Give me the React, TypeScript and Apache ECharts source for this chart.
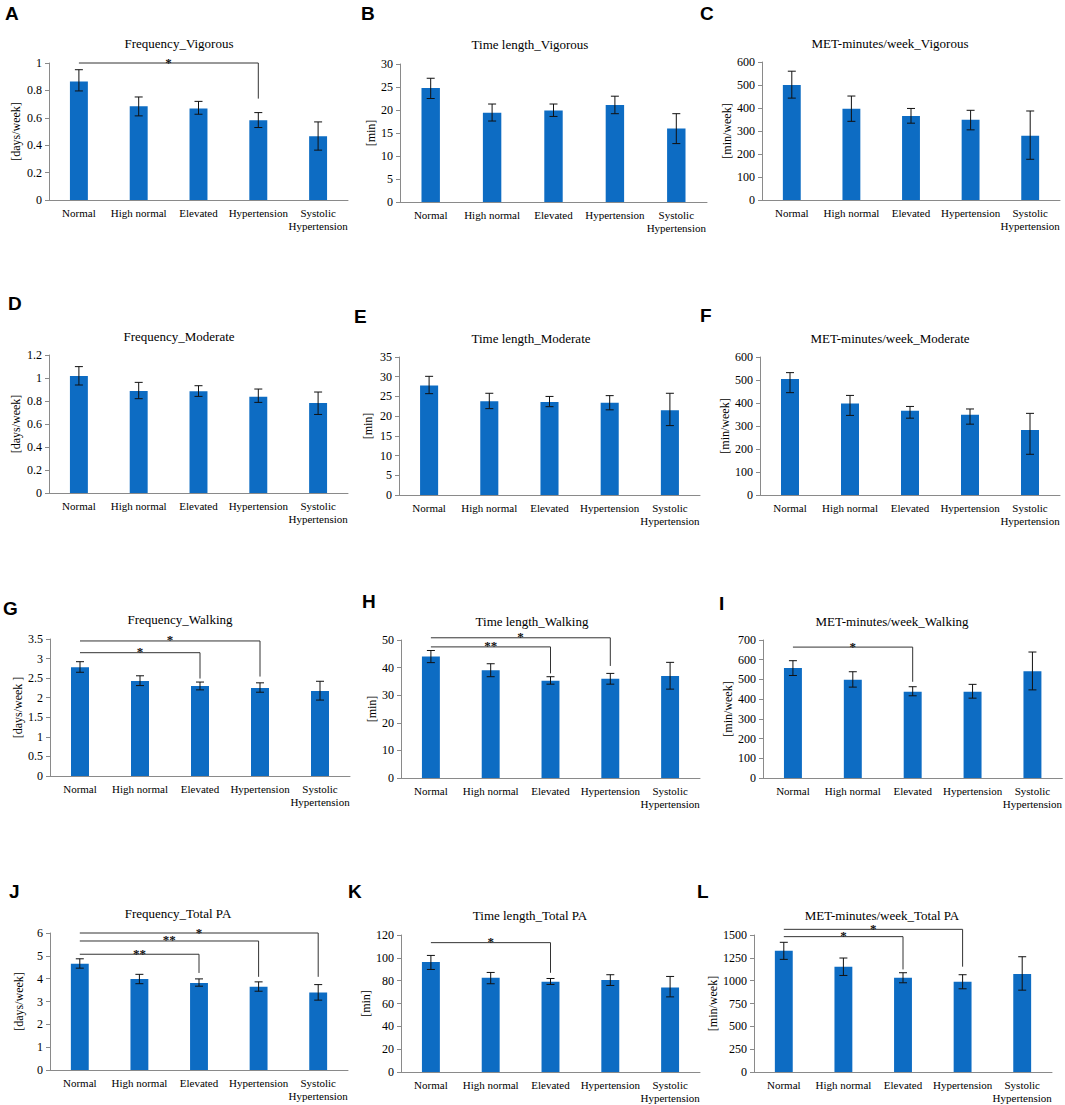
import React, { useEffect, useRef } from 'react';
import * as echarts from 'echarts';

const categories = ['Normal', 'High normal', 'Elevated', 'Hypertension', 'Systolic\nHypertension'];

// A  Frequency_Vigorous
const freqVigMean = [0.865, 0.685, 0.668, 0.582, 0.466];
const freqVigLow = [0.796, 0.614, 0.626, 0.529, 0.364];
const freqVigHigh = [0.951, 0.752, 0.72, 0.638, 0.57];
// B  Time length_Vigorous
const timeVigMean = [24.8, 19.4, 19.9, 21.1, 16.0];
const timeVigLow = [22.5, 17.6, 18.6, 19.2, 12.7];
const timeVigHigh = [26.9, 21.3, 21.3, 23.0, 19.2];
// C  MET-minutes/week_Vigorous
const metVigMean = [500, 397, 365, 349, 279];
const metVigLow = [443, 342, 334, 305, 177];
const metVigHigh = [560, 452, 398, 390, 387];
// D  Frequency_Moderate
const freqModMean = [1.017, 0.887, 0.884, 0.837, 0.782];
const freqModLow = [0.939, 0.82, 0.84, 0.788, 0.683];
const freqModHigh = [1.099, 0.962, 0.933, 0.904, 0.878];
// E  Time length_Moderate
const timeModMean = [27.8, 23.8, 23.6, 23.4, 21.5];
const timeModLow = [25.7, 21.9, 22.4, 21.6, 17.6];
const timeModHigh = [30.1, 25.8, 25.0, 25.2, 25.8];
// F  MET-minutes/week_Moderate
const metModMean = [504, 398, 366, 349, 283];
const metModLow = [445, 346, 334, 308, 177];
const metModHigh = [532, 433, 385, 374, 355];
// G  Frequency_Walking
const freqWalkMean = [2.78, 2.43, 2.3, 2.25, 2.17];
const freqWalkLow = [2.65, 2.31, 2.2, 2.14, 1.94];
const freqWalkHigh = [2.92, 2.56, 2.4, 2.38, 2.42];
// H  Time length_Walking
const timeWalkMean = [44.0, 39.0, 35.2, 36.0, 37.0];
const timeWalkLow = [41.8, 36.7, 34.0, 34.0, 32.2];
const timeWalkHigh = [46.2, 41.4, 36.7, 37.9, 41.9];
// I  MET-minutes/week_Walking
const metWalkMean = [558, 498, 437, 438, 542];
const metWalkLow = [520, 461, 417, 405, 447];
const metWalkHigh = [595, 539, 463, 475, 639];
// J  Frequency_Total PA
const freqTotMean = [4.65, 3.99, 3.81, 3.65, 3.39];
const freqTotLow = [4.46, 3.78, 3.67, 3.45, 3.06];
const freqTotHigh = [4.87, 4.19, 3.99, 3.86, 3.74];
// K  Time length_Total PA
const timeTotMean = [96.3, 82.5, 79.0, 80.5, 74.0];
const timeTotLow = [89.8, 77.3, 76.7, 75.8, 65.8];
const timeTotHigh = [102.1, 87.2, 81.9, 85.2, 83.7];
// L  MET-minutes/week_Total PA
const metTotMean = [1328, 1153, 1032, 988, 1072];
const metTotLow = [1233, 1057, 977, 911, 896];
const metTotHigh = [1420, 1248, 1087, 1065, 1262];

// significance brackets: [fromIndex, toIndex, lineValue, dropValue, label]
const bracketsA: [number, number, number, number, string][] = [[0, 3, 1.0, 0.74, '*']];
const bracketsG: [number, number, number, number, string][] = [[0, 3, 3.45, 2.54, '*'], [0, 2, 3.15, 2.49, '*']];
const bracketsH: [number, number, number, number, string][] = [[0, 3, 50.8, 40.6, '*'], [0, 2, 47.5, 37.9, '**']];
const bracketsI: [number, number, number, number, string][] = [[0, 2, 664, 488, '*']];
const bracketsJ: [number, number, number, number, string][] = [[0, 4, 6.0, 4.08, '*'], [0, 3, 5.65, 4.08, '**'], [0, 2, 5.07, 4.25, '**']];
const bracketsK: [number, number, number, number, string][] = [[0, 2, 113.3, 86.9, '*']];
const bracketsL: [number, number, number, number, string][] = [[0, 3, 1562, 1153, '*'], [0, 2, 1482, 1123, '*']];

const panels = [
  { letter: 'A', title: 'Frequency_Vigorous', yName: '[days/week]', max: 1, interval: 0.2, mean: freqVigMean, low: freqVigLow, high: freqVigHigh, brackets: bracketsA, box: [49, 63, 348, 200], titlePos: [179, 43], letterPos: [5, 13], nameGap: 27 },
  { letter: 'B', title: 'Time length_Vigorous', yName: '[min]', max: 30, interval: 5, mean: timeVigMean, low: timeVigLow, high: timeVigHigh, brackets: [], box: [400, 64, 707, 202], titlePos: [530, 44], letterPos: [361, 13], nameGap: 20 },
  { letter: 'C', title: 'MET-minutes/week_Vigorous', yName: '[min/week]', max: 600, interval: 100, mean: metVigMean, low: metVigLow, high: metVigHigh, brackets: [], box: [762, 62, 1060, 200], titlePos: [890, 43], letterPos: [700, 13], nameGap: 28 },
  { letter: 'D', title: 'Frequency_Moderate', yName: '[days/week]', max: 1.2, interval: 0.2, mean: freqModMean, low: freqModLow, high: freqModHigh, brackets: [], box: [49, 355, 348, 493], titlePos: [179, 336], letterPos: [8, 303], nameGap: 27 },
  { letter: 'E', title: 'Time length_Moderate', yName: '[min]', max: 35, interval: 5, mean: timeModMean, low: timeModLow, high: timeModHigh, brackets: [], box: [399, 357, 700, 495], titlePos: [531, 338], letterPos: [354, 316], nameGap: 25 },
  { letter: 'F', title: 'MET-minutes/week_Moderate', yName: '[min/week]', max: 600, interval: 100, mean: metModMean, low: metModLow, high: metModHigh, brackets: [], box: [760, 357, 1060, 495], titlePos: [890, 338], letterPos: [700, 315], nameGap: 26 },
  { letter: 'G', title: 'Frequency_Walking', yName: '[days/week ]', max: 3.5, interval: 0.5, mean: freqWalkMean, low: freqWalkLow, high: freqWalkHigh, brackets: bracketsG, box: [50, 639, 350, 776], titlePos: [180, 619], letterPos: [3, 608], nameGap: 25 },
  { letter: 'H', title: 'Time length_Walking', yName: '[min]', max: 50, interval: 10, mean: timeWalkMean, low: timeWalkLow, high: timeWalkHigh, brackets: bracketsH, box: [401, 640, 700, 778], titlePos: [532, 621], letterPos: [362, 601], nameGap: 21 },
  { letter: 'I', title: 'MET-minutes/week_Walking', yName: '[min/week]', max: 700, interval: 100, mean: metWalkMean, low: metWalkLow, high: metWalkHigh, brackets: bracketsI, box: [763, 640, 1063, 778], titlePos: [892, 621], letterPos: [719, 603], nameGap: 28 },
  { letter: 'J', title: 'Frequency_Total PA', yName: '[days/week]', max: 6, interval: 1, mean: freqTotMean, low: freqTotLow, high: freqTotHigh, brackets: bracketsJ, box: [50, 933, 348, 1070], titlePos: [178, 913], letterPos: [9, 891], nameGap: 25 },
  { letter: 'K', title: 'Time length_Total PA', yName: '[min]', max: 120, interval: 20, mean: timeTotMean, low: timeTotLow, high: timeTotHigh, brackets: bracketsK, box: [401, 935, 700, 1072], titlePos: [530, 915], letterPos: [348, 891], nameGap: 27 },
  { letter: 'L', title: 'MET-minutes/week_Total PA', yName: '[min/week]', max: 1500, interval: 250, mean: metTotMean, low: metTotLow, high: metTotHigh, brackets: bracketsL, box: [754, 935, 1052, 1072], titlePos: [882, 915], letterPos: [697, 891], nameGap: 34 },
];

const BAR = '#0D6CC3';
const AXIS = '#8a8a8a';
const SERIF = 'Liberation Serif';
const SANS = 'Liberation Sans';

function buildOption() {
  const grid: any[] = [];
  const xAxis: any[] = [];
  const yAxis: any[] = [];
  const series: any[] = [];
  const graphic: any[] = [];

  panels.forEach((p, gi) => {
    const [l, t, r, b] = p.box;
    grid.push({ left: l, top: t, width: r - l, height: b - t, containLabel: false });
    xAxis.push({
      type: 'category', gridIndex: gi, data: categories,
      axisLine: { lineStyle: { color: AXIS, width: 1 } },
      axisTick: { show: false },
      axisLabel: { interval: 0, color: '#000', fontFamily: SERIF, fontSize: 11, lineHeight: 13, margin: 6 },
      splitLine: { show: false },
    });
    yAxis.push({
      type: 'value', gridIndex: gi, min: 0, max: p.max, interval: p.interval,
      name: p.yName, nameLocation: 'middle', nameRotate: 90, nameGap: p.nameGap,
      nameTextStyle: { color: '#000', fontFamily: SERIF, fontSize: 12 },
      axisLine: { show: true, lineStyle: { color: AXIS, width: 1 } },
      axisTick: { show: true, length: 4, lineStyle: { color: AXIS } },
      axisLabel: {
        color: '#000', fontFamily: SERIF, fontSize: 12, margin: 7,
        formatter: (v: number) => String(Math.round(v * 1000) / 1000),
      },
      splitLine: { show: false },
    });
    series.push({
      type: 'bar', xAxisIndex: gi, yAxisIndex: gi, data: p.mean, barWidth: '30%',
      itemStyle: { color: BAR },
    });
    series.push({
      type: 'custom', xAxisIndex: gi, yAxisIndex: gi, clip: false, z: 5,
      data: categories.map((_, i) => [i, p.low[i], p.high[i]]),
      encode: { x: 0, y: [1, 2] },
      renderItem: (params: any, api: any) => {
        const i = api.value(0);
        const lo = api.coord([i, api.value(1)]);
        const hi = api.coord([i, api.value(2)]);
        const w = 4;
        const st = { stroke: '#111', lineWidth: 1 };
        return {
          type: 'group',
          children: [
            { type: 'line', shape: { x1: hi[0], y1: hi[1], x2: lo[0], y2: lo[1] }, style: st },
            { type: 'line', shape: { x1: hi[0] - w, y1: hi[1], x2: hi[0] + w, y2: hi[1] }, style: st },
            { type: 'line', shape: { x1: lo[0] - w, y1: lo[1], x2: lo[0] + w, y2: lo[1] }, style: st },
          ],
        };
      },
    });
    if (p.brackets.length) {
      const br = p.brackets;
      series.push({
        type: 'custom', xAxisIndex: gi, yAxisIndex: gi, clip: false, z: 6,
        data: br.map((d) => [d[0], d[1], d[2], d[3]]),
        encode: { x: [0, 1], y: [2, 3] },
        renderItem: (params: any, api: any) => {
          const d = br[params.dataIndex];
          const a = api.coord([d[0], d[2]]);
          const c = api.coord([d[1], d[2]]);
          const e = api.coord([d[1], d[3]]);
          return {
            type: 'group',
            children: [
              { type: 'polyline', shape: { points: [a, c, e] }, style: { stroke: '#333', lineWidth: 1, fill: 'none' } },
              {
                type: 'text', x: (a[0] + c[0]) / 2, y: a[1] - 1,
                style: { text: d[4], fill: '#111', fontFamily: SERIF, fontSize: 13, fontWeight: 'bold', textAlign: 'center', textVerticalAlign: 'middle' },
              },
            ],
          };
        },
      });
    }
    graphic.push({
      type: 'text', x: p.titlePos[0], y: p.titlePos[1],
      style: { text: p.title, fill: '#000', fontFamily: SERIF, fontSize: 13, textAlign: 'center', textVerticalAlign: 'middle' },
    });
    graphic.push({
      type: 'text', x: p.letterPos[0], y: p.letterPos[1],
      style: { text: p.letter, fill: '#000', fontFamily: SANS, fontSize: 19, fontWeight: 'bold', textAlign: 'left', textVerticalAlign: 'middle' },
    });
  });

  return {
    animation: false,
    backgroundColor: '#ffffff',
    textStyle: { fontFamily: SERIF },
    grid, xAxis, yAxis, series, graphic,
  };
}

export default function App() {
  const ref = useRef<HTMLDivElement>(null);
  useEffect(() => {
    if (!ref.current) return;
    const chart = echarts.init(ref.current, undefined, { renderer: 'svg' });
    chart.setOption(buildOption() as any);
    return () => chart.dispose();
  }, []);
  return (
    <div
      ref={ref}
      style={{ position: 'absolute', left: 0, top: 0, width: 1065, height: 1105, background: '#fff' }}
    />
  );
}
